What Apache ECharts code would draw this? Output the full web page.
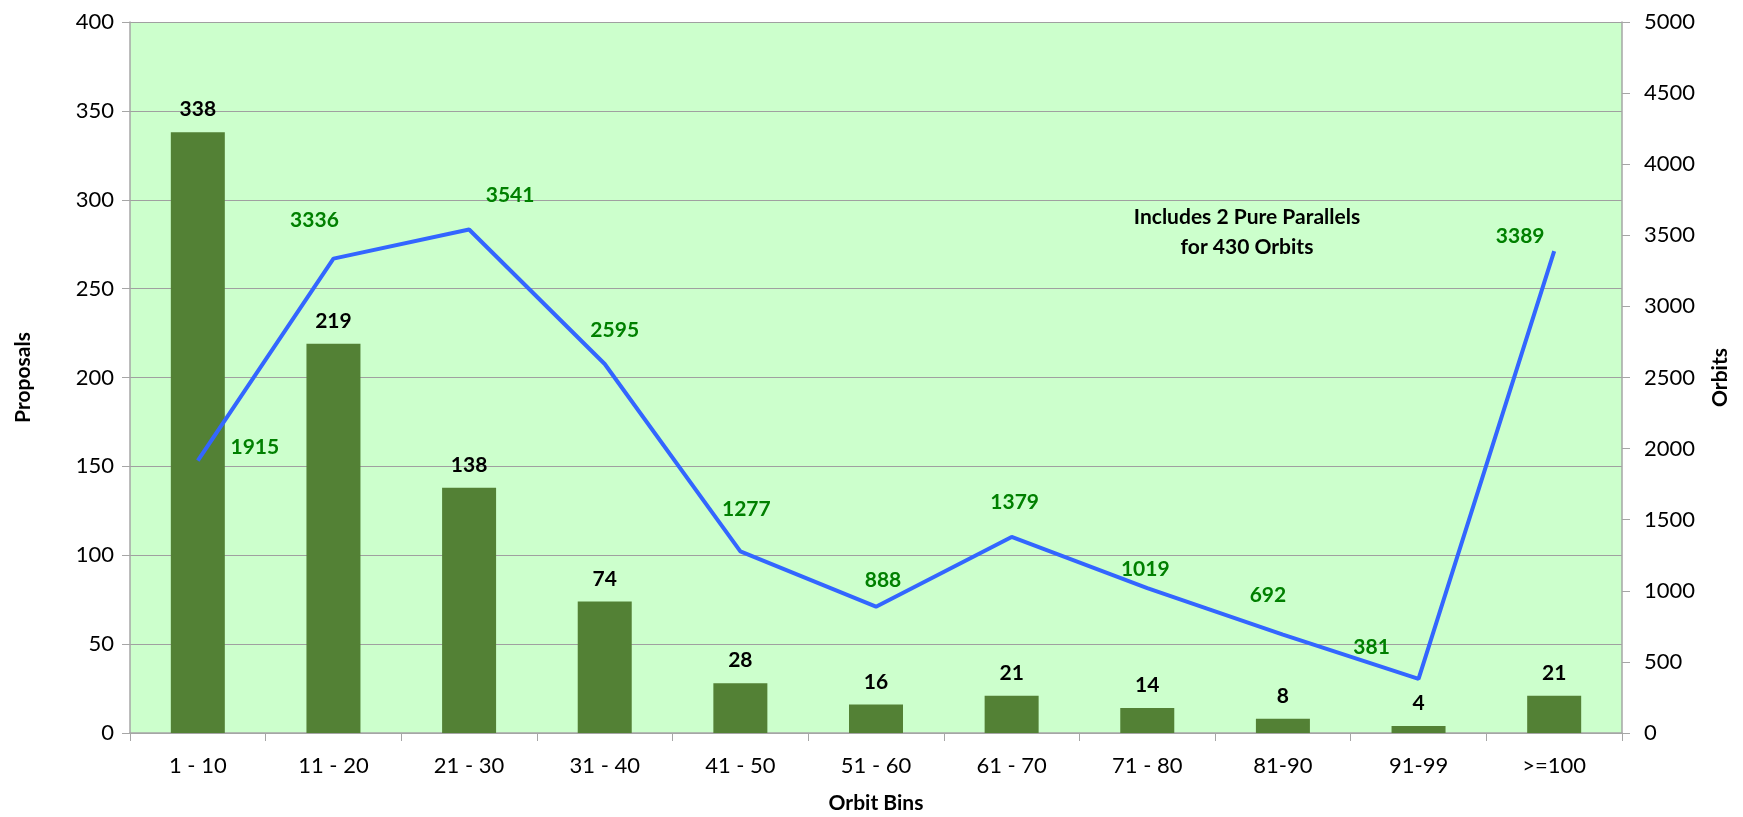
<!DOCTYPE html>
<html>
<head>
<meta charset="utf-8">
<script src="https://cdn.jsdelivr.net/npm/echarts@6/dist/echarts.min.js"></script>
<style>html,body{margin:0;padding:0;background:#fff;}#c{width:1743px;height:817px;}</style>
</head>
<body>
<div id="c"></div>
<script>
const categories = ['1 - 10','11 - 20','21 - 30','31 - 40','41 - 50','51 - 60','61 - 70','71 - 80','81-90','91-99','>=100'];
const proposals = [338, 219, 138, 74, 28, 16, 21, 14, 8, 4, 21];
const orbits = [1915, 3336, 3541, 2595, 1277, 888, 1379, 1019, 692, 381, 3389];
const annotationLines = ['Includes 2 Pure Parallels', 'for 430 Orbits'];

const lineLabelOffsets = [[57,-13],[-19,-38],[41,-34],[10,-34],[6,-42],[7,-26],[3,-35],[-2,-19],[-15,-39],[-47,-32],[-34,-15]];

const FONT = 'Lato, "Open Sans", sans-serif';
const chart = echarts.init(document.getElementById('c'));
chart.setOption({
  animation: false,
  backgroundColor: '#ffffff',
  grid: { left: 130, right: 121, top: 22, bottom: 84, outerBoundsMode: 'none', containLabel: false, show: true, backgroundColor: '#CCFFCC', borderWidth: 0 },
  xAxis: {
    type: 'category', data: categories,
    name: 'Orbit Bins', nameLocation: 'middle', nameGap: 60,
    nameTextStyle: { fontFamily: FONT, fontWeight: 'bold', fontSize: 21, color: '#000' },
    axisLine: { lineStyle: { color: '#A6A6A6', width: 1.5 } },
    axisTick: { show: true, length: 8, lineStyle: { color: '#A6A6A6' } },
    axisLabel: { fontFamily: FONT, fontSize: 22, color: '#000', margin: 22 }
  },
  yAxis: [
    {
      type: 'value', min: 0, max: 400, interval: 50,
      name: 'Proposals', nameLocation: 'middle', nameGap: 96, nameRotate: 90,
      nameTextStyle: { fontFamily: FONT, fontWeight: 'bold', fontSize: 21, color: '#000' },
      axisLine: { show: true, lineStyle: { color: '#A6A6A6', width: 1.5 } },
      axisTick: { show: true, length: 8, lineStyle: { color: '#A6A6A6' } },
      axisLabel: { fontFamily: FONT, fontSize: 22, color: '#000', margin: 16 },
      splitLine: { show: true, lineStyle: { color: '#A0A0A0', width: 1 } }
    },
    {
      type: 'value', min: 0, max: 5000, interval: 500,
      name: 'Orbits', nameLocation: 'middle', nameGap: 88, nameRotate: 90,
      nameTextStyle: { fontFamily: FONT, fontWeight: 'bold', fontSize: 21, color: '#000' },
      axisLine: { show: true, lineStyle: { color: '#A6A6A6', width: 1.5 } },
      axisTick: { show: true, length: 8, lineStyle: { color: '#A6A6A6' } },
      axisLabel: { fontFamily: FONT, fontSize: 22, color: '#000', margin: 22, formatter: v => String(v) },
      splitLine: { show: false }
    }
  ],
  series: [
    {
      type: 'bar', yAxisIndex: 0, data: proposals,
      barWidth: 54,
      itemStyle: { color: '#538135' },
      label: { show: true, position: 'top', distance: 12, fontFamily: FONT, fontWeight: 'bold', fontSize: 21, color: '#000' }
    },
    {
      type: 'line', yAxisIndex: 1,
      data: orbits.map((v, i) => ({ value: v, label: { offset: lineLabelOffsets[i] } })),
      symbol: 'circle', symbolSize: 1,
      itemStyle: { color: '#3366FF', opacity: 0 },
      lineStyle: { color: '#3366FF', width: 4 },
      label: { show: true, position: 'inside', fontFamily: FONT, fontWeight: 'bold', fontSize: 21, color: '#008000', opacity: 1 }
    }
  ],
  graphic: [{
    type: 'text', x: 1247, y: 202,
    style: { text: annotationLines.join('\n'), fontFamily: FONT, fontWeight: 'bold', fontSize: 21, fill: '#000', align: 'center', textAlign: 'center', lineHeight: 30 }
  }]
});
</script>
</body>
</html>
